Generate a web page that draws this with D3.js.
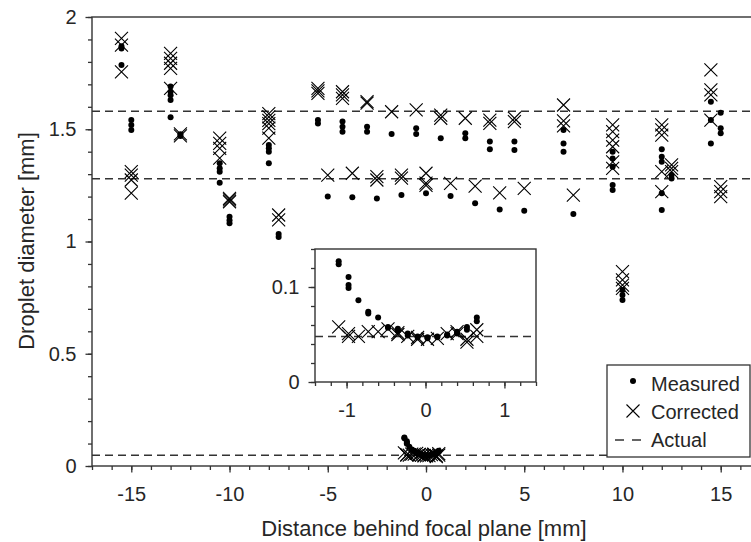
<!DOCTYPE html>
<html>
<head>
<meta charset="utf-8">
<script src="https://cdn.jsdelivr.net/npm/d3@7"></script>
<style>
  body { margin: 0; background: #fff; }
  svg text { font-family: "Liberation Sans", Arial, sans-serif; fill: #262626; }
</style>
</head>
<body>
<div id="chart"></div>
<script>
// Far-from-focus measurements (mm)
const farPositions = [-15.5, -15, -13, -12.5, -10.5, -10, -8, -7.5,
  -5.5, -5, -4.25, -3.75, -3, -2.5, -1.75, -1.25, -0.5, 0, 0.75, 1.25,
  2, 2.5, 3.25, 3.75, 4.5, 5, 7, 7.5, 9.5, 10, 12, 12.5, 14.5, 15]
const farMeasured = [
  [1.87, 1.86, 1.786], [1.541, 1.519, 1.497], [1.69, 1.667, 1.652, 1.63, 1.553], [1.478, 1.47],
  [1.348, 1.326, 1.311, 1.262], [1.11, 1.095, 1.081], [1.43, 1.415, 1.40, 1.348], [1.033, 1.02],
  [1.541, 1.526], [1.20], [1.534, 1.511, 1.489], [1.197], [1.511, 1.489], [1.192],
  [1.479], [1.207], [1.504, 1.479], [1.215], [1.46], [1.203],
  [1.482, 1.46], [1.17], [1.445, 1.411], [1.143], [1.445, 1.408], [1.137],
  [1.497, 1.437, 1.40], [1.122], [1.40, 1.37, 1.333, 1.252, 1.229], [0.784, 0.762, 0.739],
  [1.411, 1.378, 1.355, 1.215, 1.14], [1.296, 1.281], [1.623, 1.541, 1.437], [1.574, 1.504, 1.482]
]
const farCorrected = [
  [1.905, 1.875, 1.756], [1.311, 1.296, 1.274, 1.215], [1.838, 1.816, 1.794, 1.771, 1.682], [1.479, 1.47],
  [1.46, 1.437, 1.415, 1.371], [1.192, 1.185, 1.177], [1.57, 1.555, 1.54, 1.525, 1.505, 1.46], [1.118, 1.096],
  [1.682, 1.671, 1.66], [1.296], [1.667, 1.653, 1.638], [1.304], [1.623, 1.616], [1.289, 1.274],
  [1.578], [1.296, 1.282], [1.586], [1.304, 1.26, 1.25], [1.563, 1.549], [1.259],
  [1.549], [1.247], [1.541, 1.526], [1.217], [1.549, 1.534], [1.237],
  [1.608, 1.537, 1.515], [1.207], [1.519, 1.489, 1.452, 1.422, 1.355, 1.326], [0.866, 0.829, 0.806, 0.791],
  [1.519, 1.497, 1.474, 1.311, 1.222], [1.341, 1.326, 1.311], [1.764, 1.675, 1.653, 1.541], [1.244, 1.222, 1.2]
]

// Near-focus measurements (mm)
const nearPositions = [-1.1, -0.975, -0.85, -0.725, -0.6, -0.475, -0.35, -0.225,
  -0.1, 0.025, 0.15, 0.275, 0.4, 0.525, 0.65]
const nearMeasured = [
  [0.127, 0.124], [0.1105, 0.102, 0.099], [0.086], [0.074, 0.072], [0.068], [0.058, 0.057],
  [0.056, 0.054], [0.051, 0.049], [0.048, 0.047], [0.047, 0.046], [0.048, 0.047],
  [0.05, 0.049], [0.053, 0.051], [0.058, 0.055], [0.068, 0.064]
]
const nearCorrected = [
  [0.058], [0.051, 0.048], [0.048], [0.053], [0.053], [0.056], [0.05, 0.052], [0.048],
  [0.045, 0.047], [0.045], [0.046], [0.051], [0.051, 0.053], [0.045, 0.042], [0.055, 0.048]
]

const actualDiameters = [1.58, 1.28, 0.048]
const insetActual = [0.048]

const xMajorTicks = [-15, -10, -5, 0, 5, 10, 15]
  , yMajorTicks = [0, 0.5, 1, 1.5, 2]
  , insetXTicks = [-1, 0, 1]
  , insetYTicks = [0, 0.1]
  , legendLabels = ["Measured", "Corrected", "Actual"];

const width = 751, height = 542
  , axisColor = "#333"
  , crossHalf = 6.5
  , dotRadius = 3;

// plain hyphen for negatives, like the original
const tickFmt = d => String(+d.toFixed(3));

const svg = d3.select("#chart").append("svg")
  .attr("width", width)
  .attr("height", height);

function flatten(positions, values) {
  var pts = []
  positions.forEach(function(p, i) {
    values[i].forEach(function(v) { pts.push([p, v]) })
  })
  return pts
}

const farM = flatten(farPositions, farMeasured)
  , farC = flatten(farPositions, farCorrected)
  , nearM = flatten(nearPositions, nearMeasured)
  , nearC = flatten(nearPositions, nearCorrected);

function drawAxes(g, x, y, xMajor, xMinor, yMajor, yMinor) {
  const [x0, x1] = x.range(), [y0, y1] = y.range();

  g.append("g")
    .attr("transform", `translate(0,${y0})`)
    .call(d3.axisBottom(x).tickValues(xMinor).tickSize(4).tickSizeOuter(0).tickFormat(""))
    .call(a => a.select(".domain").remove());
  g.append("g")
    .attr("transform", `translate(0,${y0})`)
    .call(d3.axisBottom(x).tickValues(xMajor).tickSize(6.5).tickSizeOuter(0).tickPadding(14).tickFormat(tickFmt))
    .call(a => a.select(".domain").remove());

  g.append("g")
    .attr("transform", `translate(${x0},0)`)
    .call(d3.axisLeft(y).tickValues(yMinor).tickSize(4).tickSizeOuter(0).tickFormat(""))
    .call(a => a.select(".domain").remove());
  g.append("g")
    .attr("transform", `translate(${x0},0)`)
    .call(d3.axisLeft(y).tickValues(yMajor).tickSize(6.5).tickSizeOuter(0).tickPadding(9).tickFormat(tickFmt))
    .call(a => a.select(".domain").remove());

  g.selectAll(".tick line").attr("stroke", axisColor).attr("stroke-width", 1.3);
  g.selectAll(".tick text")
    .attr("font-size", 20)
    .attr("font-family", "Liberation Sans, Arial, sans-serif")
    .attr("fill", "#262626");

  g.append("rect")
    .attr("x", x0)
    .attr("y", y1)
    .attr("width", x1 - x0)
    .attr("height", y0 - y1)
    .attr("fill", "none")
    .attr("stroke", axisColor)
    .attr("stroke-width", 1.4);
}

function drawActual(g, x, y, values) {
  g.selectAll(".actual")
    .data(values)
    .enter().append("line")
    .attr("x1", x.range()[0])
    .attr("x2", x.range()[1])
    .attr("y1", d => y(d))
    .attr("y2", d => y(d))
    .attr("stroke", "#333")
    .attr("stroke-width", 1.5)
    .attr("stroke-dasharray", "8,5");
}

function crossPath(cx, cy, s) {
  return `M${cx - s},${cy - s}L${cx + s},${cy + s}M${cx - s},${cy + s}L${cx + s},${cy - s}`
}

function drawPoints(g, x, y, measured, corrected) {
  g.append("g").selectAll("circle")
    .data(measured)
    .enter().append("circle")
    .attr("cx", d => x(d[0]))
    .attr("cy", d => y(d[1]))
    .attr("r", dotRadius)
    .attr("fill", "#000");

  g.append("g").selectAll("path")
    .data(corrected)
    .enter().append("path")
    .attr("d", d => crossPath(x(d[0]), y(d[1]), crossHalf))
    .attr("fill", "none")
    .attr("stroke", "#000")
    .attr("stroke-width", 1.1);
}

// Main axes
const x = d3.scaleLinear().domain([-17, 17]).range([92, 760])
  , y = d3.scaleLinear().domain([0, 2]).range([466, 17]);

const main = svg.append("g");
drawActual(main, x, y, actualDiameters);
drawPoints(main, x, y, farM.concat(nearM), farC.concat(nearC));
drawAxes(main, x, y, xMajorTicks, d3.range(-17, 18, 1), yMajorTicks, d3.range(0, 2.01, 0.1));

main.append("text")
  .attr("x", 424)
  .attr("y", 536)
  .attr("text-anchor", "middle")
  .attr("font-size", 22)
  .text("Distance behind focal plane [mm]");

main.append("text")
  .attr("transform", "translate(34,241) rotate(-90)")
  .attr("text-anchor", "middle")
  .attr("font-size", 22)
  .text("Droplet diameter [mm]");

// Inset
const xi = d3.scaleLinear().domain([-1.4, 1.4]).range([315, 536])
  , yi = d3.scaleLinear().domain([0, 0.14]).range([382, 249]);

const inset = svg.append("g");
inset.append("rect")
  .attr("x", 315).attr("y", 249)
  .attr("width", 221).attr("height", 133)
  .attr("fill", "#fff");
drawActual(inset, xi, yi, insetActual);
drawPoints(inset, xi, yi, nearM, nearC);
drawAxes(inset, xi, yi, insetXTicks, d3.range(-1.4, 1.41, 0.2), insetYTicks, d3.range(0, 0.141, 0.02));

// Legend
const legend = svg.append("g");
legend.append("rect")
  .attr("x", 607).attr("y", 365)
  .attr("width", 143).attr("height", 92)
  .attr("fill", "#fff")
  .attr("stroke", axisColor)
  .attr("stroke-width", 1.3);

legend.append("circle")
  .attr("cx", 633).attr("cy", 381)
  .attr("r", dotRadius)
  .attr("fill", "#000");
legend.append("path")
  .attr("d", crossPath(633, 411, crossHalf))
  .attr("stroke", "#000")
  .attr("stroke-width", 1.1);
legend.append("line")
  .attr("x1", 615).attr("x2", 643)
  .attr("y1", 440).attr("y2", 440)
  .attr("stroke", "#333")
  .attr("stroke-width", 1.5)
  .attr("stroke-dasharray", "9,8");

legend.selectAll(".label")
  .data(legendLabels)
  .enter().append("text")
  .attr("x", 651)
  .attr("y", (d, i) => 384 + i * 28)
  .attr("dy", "0.35em")
  .attr("font-size", 20)
  .text(d => d);
</script>
</body>
</html>
